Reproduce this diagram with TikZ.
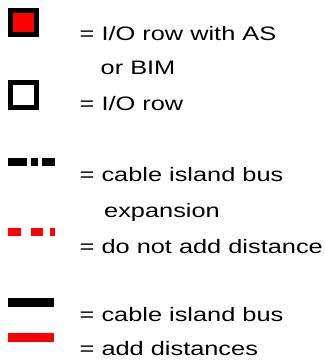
\documentclass[tikz,border=0pt]{standalone}
\usepackage{fontspec}
\setmainfont[FakeStretch=1.3]{Liberation Sans}
\begin{document}
\begin{tikzpicture}[x=1pt,y=-1pt,
  lbl/.style={anchor=base west, inner sep=0pt, font=\fontsize{19.5}{23}\selectfont},
  blk/.style={fill=black},
  redf/.style={fill=red},
  whf/.style={fill=white}]
\useasboundingbox (0,0) rectangle (325,360);
% I/O row with AS or BIM
\fill[blk] (8.3,8.3) rectangle (39.3,37.3);
\fill[redf] (12.7,13.3) rectangle (34.3,32.3);
% I/O row
\fill[blk] (8.3,80) rectangle (39.3,110);
\fill[whf] (12.7,85) rectangle (34.3,105);
% cable island bus expansion (black dashes)
\fill[blk] (8.3,157.7) rectangle (26.7,165.7);
\fill[blk] (31,157.7) rectangle (38.3,165.7);
\fill[blk] (42.3,157.7) rectangle (55,165.7);
% do not add distance (red dashes)
\fill[redf] (8.3,228.3) rectangle (20.7,236);
\fill[redf] (31,228.3) rectangle (42.7,236);
\fill[redf] (50,228.3) rectangle (55,236);
% cable island bus / add distances
\fill[blk] (8.3,298) rectangle (54,306.7);
\fill[redf] (8.3,332.7) rectangle (54,341.7);
% labels
\node[lbl] (t1) at (79.5,40.5) {= I/O row with AS};
\node[lbl] (t2) at (100.5,74.3) {or BIM};
\node[lbl] (t3) at (79.5,110.7) {= I/O row};
\node[lbl] (t4) at (79.5,181.7) {= cable island bus};
\node[lbl] (t5) at (104,217.3) {expansion};
\node[lbl] (t6) at (79.5,253) {= do not add distance};
\node[lbl] (t7) at (79.5,321.7) {= cable island bus};
\node[lbl] (t8) at (79.5,355) {= add distances};
\end{tikzpicture}
\end{document}
